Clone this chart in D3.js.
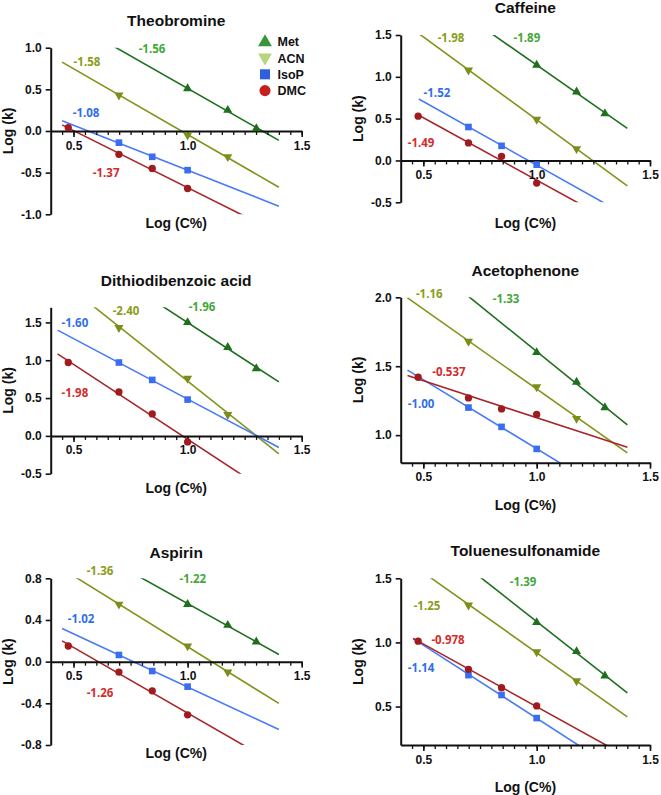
<!DOCTYPE html>
<html>
<head>
<meta charset="utf-8">
<script src="https://cdn.jsdelivr.net/npm/d3@7"></script>
<style>
  html, body { margin: 0; padding: 0; background: #fff; }
  svg { display: block; }
</style>
</head>
<body>
<svg id="chart" width="661" height="795"></svg>
<script>
// ---------------- DATA ----------------
const compounds = ["Theobromine", "Caffeine", "Dithiodibenzoic acid", "Acetophenone", "Aspirin", "Toluenesulfonamide"];
const seriesNames = ["Met", "ACN", "IsoP", "DMC"];

// x values: Log(C%) for C = 3, 5, 7, 10, 15, 20 %
const xMet  = [1.000, 1.176, 1.301];
const xACN  = [0.699, 1.000, 1.176];
const xIsoP = [0.699, 0.845, 1.000];
const xDMC  = [0.477, 0.699, 0.845, 1.000];

// Log(k) per compound (rows follow `compounds`)
const yMet = [
  [0.51, 0.25, 0.03],
  [1.14, 0.82, 0.56],
  [1.50, 1.17, 0.89],
  [1.60, 1.385, 1.20],
  [0.55, 0.35, 0.19],
  [1.156, 0.93, 0.74]
];
const yACN = [
  [0.43, -0.05, -0.31],
  [1.08, 0.49, 0.14],
  [1.43, 0.76, 0.28],
  [1.68, 1.35, 1.12],
  [0.55, 0.15, -0.10],
  [1.29, 0.926, 0.70]
];
const yIsoP = [
  [-0.14, -0.31, -0.47],
  [0.40, 0.175, -0.05],
  [0.97, 0.74, 0.48],
  [1.20, 1.06, 0.90],
  [0.064, -0.09, -0.24],
  [0.745, 0.59, 0.41]
];
const yDMC = [
  [0.04, -0.28, -0.45, -0.69],
  [0.53, 0.21, 0.05, -0.27],
  [0.97, 0.58, 0.29, -0.08],
  [1.42, 1.27, 1.19, 1.15],
  [0.15, -0.10, -0.28, -0.51],
  [1.01, 0.79, 0.647, 0.505]
];

// fitted slopes (shown as labels)
const slopeMet  = [-1.56, -1.89, -1.96, -1.33, -1.22, -1.39];
const slopeACN  = [-1.58, -1.98, -2.40, -1.16, -1.36, -1.25];
const slopeIsoP = [-1.08, -1.52, -1.60, -1.00, -1.02, -1.14];
const slopeDMC  = [-1.37, -1.49, -1.98, -0.537, -1.26, -0.978];

// axis ranges and ticks
const xDomain = [0.4, 1.5];
const xTickLabels = [0.5, 1.0, 1.5];
const yDomains = [[-1, 1], [-0.5, 1.5], [-0.5, 1.7], [0.8, 2.0], [-0.8, 0.8], [0.2, 1.5]];
const yTickLabels = [
  [-1.0, -0.5, 0.0, 0.5, 1.0],
  [-0.5, 0.0, 0.5, 1.0, 1.5],
  [-0.5, 0.0, 0.5, 1.0, 1.5],
  [1.0, 1.5, 2.0],
  [-0.8, -0.4, 0.0, 0.4, 0.8],
  [0.5, 1.0, 1.5]
];
// range of fitted line (in Log(C%))
const lineStart = [0.45, 0.48, 0.43, 0.43, 0.45, 0.455];
const lineEnd   = [1.4, 1.4, 1.4, 1.4, 1.4, 1.4];

// ---------------- LAYOUT / STYLE ----------------
const layout = [
  {l: 50.7,  r: 301.7, t: 47.7,  b: 214.3, titleY: 26,  xTitleY: 228},
  {l: 400.7, r: 650,   t: 35,    b: 202.3, titleY: 13,  xTitleY: 228},
  {l: 50.7,  r: 301.7, t: 307.3, b: 473.7, titleY: 286, xTitleY: 493},
  {l: 400.7, r: 650,   t: 297.3, b: 462.7, titleY: 276, xTitleY: 510},
  {l: 50.7,  r: 301.7, t: 578.3, b: 745,   titleY: 558, xTitleY: 758},
  {l: 400.7, r: 650,   t: 578.3, b: 745,   titleY: 556, xTitleY: 792}
];
// slope label anchors in data coordinates [series][panel] -> [x, y]
const labelPos = {
  Met:  [[0.844, 0.984], [0.957, 1.463], [1.063, 1.706], [0.865, 1.988], [1.023, 0.794], [0.940, 1.471]],
  ACN:  [[0.559, 0.828], [0.622, 1.463], [0.730, 1.653], [0.526, 2.024], [0.616, 0.870], [0.516, 1.284]],
  IsoP: [[0.555, 0.216], [0.560, 0.805], [0.506, 1.495], [0.490, 1.226], [0.533, 0.410], [0.490, 0.801]],
  DMC:  [[0.643, -0.504], [0.490, 0.207], [0.506, 0.569], [0.613, 1.458], [0.616, -0.300], [0.609, 1.019]]
};

const style = {
  Met:  {line: "#1f6f1f", mark: "#1f6f1f", label: "#42a838", legend: "#37963a", sym: d3.symbolTriangle, rot: 0,   size: 36},
  ACN:  {line: "#7f951a", mark: "#7a8e1a", label: "#8a9d18", legend: "#b5d67a", sym: d3.symbolTriangle, rot: 180, size: 36},
  IsoP: {line: "#4a7bf5", mark: "#3b6df0", label: "#2f70e6", legend: "#2e5fe0", sym: d3.symbolSquare,   rot: 0,   size: 44},
  DMC:  {line: "#a8262a", mark: "#a01b1f", label: "#d42b2b", legend: "#c81e1e", sym: d3.symbolCircle,   rot: 0,   size: 42}
};

const SANS = "'Liberation Sans', Arial, sans-serif";
const LBL = "'Open Sans', 'Liberation Sans', sans-serif";

const seriesX = {Met: xMet, ACN: xACN, IsoP: xIsoP, DMC: xDMC};
const seriesY = {Met: yMet, ACN: yACN, IsoP: yIsoP, DMC: yDMC};
const seriesSlope = {Met: slopeMet, ACN: slopeACN, IsoP: slopeIsoP, DMC: slopeDMC};

const fmtTick = d => d.toFixed(1);
const fmtSlope = d => d.toPrecision(3);

const svg = d3.select("#chart");
const minorTicks = d3.range(0.45, 1.5001, 0.05).map(v => +v.toFixed(2));

compounds.forEach((name, i) => {
  const L = layout[i];
  const x = d3.scaleLinear().domain(xDomain).range([L.l, L.r]);
  const y = d3.scaleLinear().domain(yDomains[i]).range([L.b, L.t]);
  const g = svg.append("g");

  const clipId = "clip" + i;
  svg.append("clipPath").attr("id", clipId)
    .append("rect").attr("x", L.l).attr("y", L.t).attr("width", L.r - L.l).attr("height", L.b - L.t);

  // title
  g.append("text").attr("x", (L.l + L.r) / 2).attr("y", L.titleY)
    .attr("text-anchor", "middle").attr("font-family", SANS).attr("font-weight", "bold")
    .attr("font-size", 15.5).attr("fill", "#111").text(name);

  // x-axis position
  const dom = yDomains[i];
  const cross = (dom[0] <= 0 && dom[1] >= 0) ? 0 : dom[0];
  const ay = y(cross);

  // fitted lines
  const lineG = g.append("g").attr("clip-path", `url(#${clipId})`);
  seriesNames.forEach(s => {
    const xs = seriesX[s], ys = seriesY[s][i], b = seriesSlope[s][i];
    const mx = d3.mean(xs), my = d3.mean(ys);
    const a = my - b * mx;
    const pts = [lineStart[i], lineEnd[i]].map(v => [v, a + b * v]);
    lineG.append("path")
      .attr("d", d3.line().x(d => x(d[0])).y(d => y(d[1]))(pts))
      .attr("fill", "none").attr("stroke", style[s].line).attr("stroke-width", 1.6);
  });

  // x axis
  const xMinor = g.append("g").attr("transform", `translate(0,${ay})`)
    .call(d3.axisBottom(x).tickValues(minorTicks).tickSize(4).tickSizeOuter(0).tickFormat(""));
  xMinor.selectAll("path.domain").attr("stroke", "#111").attr("stroke-width", 2);
  xMinor.selectAll(".tick line").attr("stroke", "#111").attr("stroke-width", 1.3);
  const xMajor = g.append("g").attr("transform", `translate(0,${ay})`)
    .call(d3.axisBottom(x).tickValues(xTickLabels).tickSize(6).tickPadding(4).tickSizeOuter(0).tickFormat(fmtTick));
  xMajor.select("path.domain").remove();
  xMajor.selectAll(".tick line").attr("stroke", "#111").attr("stroke-width", 1.6);
  xMajor.selectAll(".tick text").attr("font-family", SANS).attr("font-weight", "bold")
    .attr("font-size", 12).attr("fill", "#111");

  // y axis
  const yAx = g.append("g").attr("transform", `translate(${L.l},0)`)
    .call(d3.axisLeft(y).tickValues(yTickLabels[i]).tickSize(5).tickPadding(4).tickSizeOuter(0).tickFormat(fmtTick));
  yAx.select("path.domain").attr("stroke", "#111").attr("stroke-width", 2);
  yAx.selectAll(".tick line").attr("stroke", "#111").attr("stroke-width", 1.6);
  yAx.selectAll(".tick text").attr("font-family", SANS).attr("font-weight", "bold")
    .attr("font-size", 12).attr("fill", "#111");

  // axis titles
  g.append("text").attr("x", (L.l + L.r) / 2).attr("y", L.xTitleY)
    .attr("text-anchor", "middle").attr("font-family", SANS).attr("font-weight", "bold")
    .attr("font-size", 14).attr("fill", "#111").text("Log (C%)");
  g.append("text")
    .attr("transform", `translate(${L.l - 38},${(L.t + L.b) / 2}) rotate(-90)`)
    .attr("text-anchor", "middle").attr("font-family", SANS).attr("font-weight", "bold")
    .attr("font-size", 14).attr("fill", "#111").text("Log (k)");

  // markers
  seriesNames.forEach(s => {
    const xs = seriesX[s], ys = seriesY[s][i];
    const sym = d3.symbol().type(style[s].sym).size(style[s].size);
    g.append("g").selectAll("path").data(xs.map((v, k) => [v, ys[k]])).join("path")
      .attr("d", sym)
      .attr("transform", d => `translate(${x(d[0])},${y(d[1])}) rotate(${style[s].rot})`)
      .attr("fill", style[s].mark);
  });

  // slope labels
  seriesNames.forEach(s => {
    const p = labelPos[s][i];
    g.append("text").attr("x", x(p[0])).attr("y", y(p[1]))
      .attr("dy", "0.35em").attr("text-anchor", "middle")
      .attr("font-family", LBL).attr("font-weight", "bold").attr("font-size", 11.5)
      .attr("fill", style[s].label).text(fmtSlope(seriesSlope[s][i]));
  });
});

// legend (in first panel)
const legG = svg.append("g");
seriesNames.forEach((s, k) => {
  const cy = 41.7 + k * 16.3;
  const sym = d3.symbol().type(style[s].sym).size(style[s].size * 2.3);
  legG.append("path").attr("d", sym)
    .attr("transform", `translate(265,${cy + (style[s].sym === d3.symbolTriangle ? (style[s].rot ? -0.5 : 0.5) : 0)}) rotate(${style[s].rot})`)
    .attr("fill", style[s].legend);
  legG.append("text").attr("x", 277.5).attr("y", cy).attr("dy", "0.36em")
    .attr("font-family", SANS).attr("font-weight", "bold").attr("font-size", 12.5)
    .attr("fill", "#111").text(s);
});
</script>
</body>
</html>
